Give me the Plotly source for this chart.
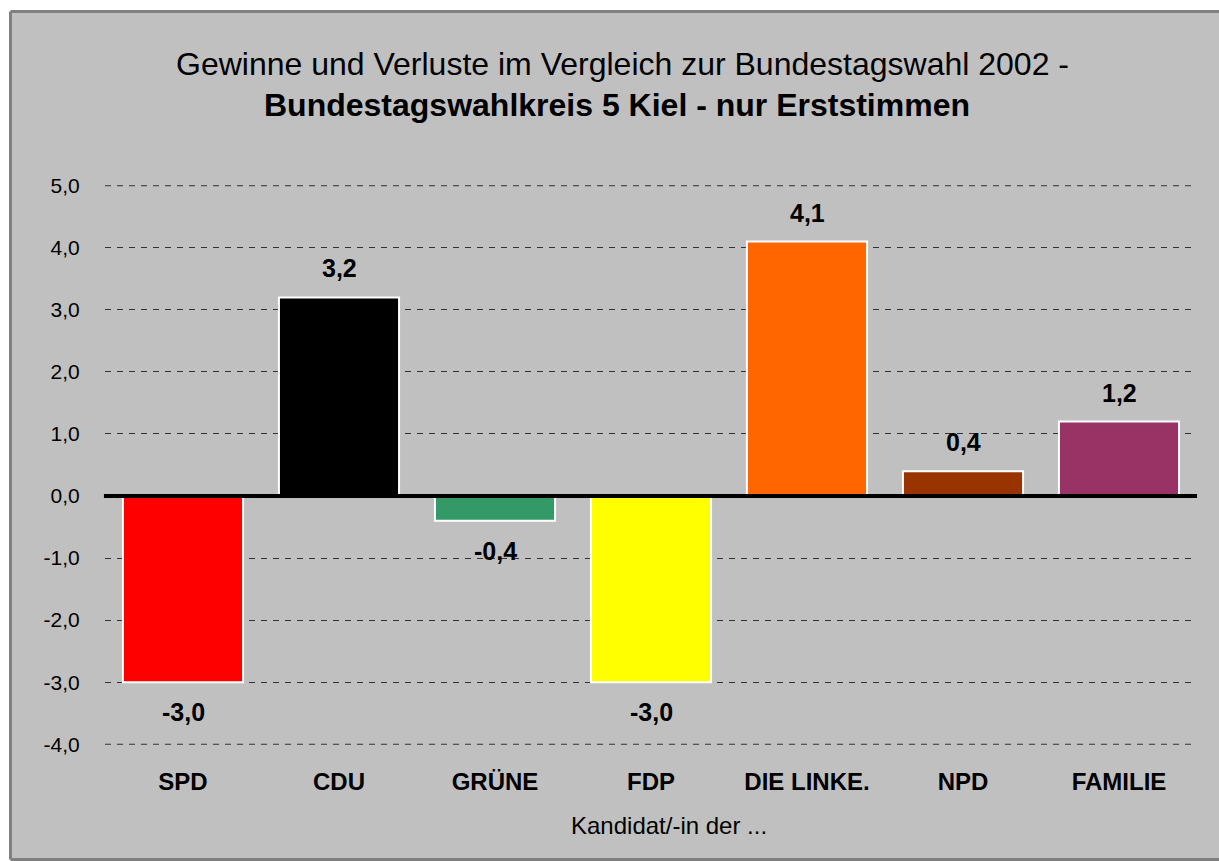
import plotly.graph_objects as go

parties = ["SPD", "CDU", "GRÜNE", "FDP", "DIE LINKE.", "NPD", "FAMILIE"]
changes = [-3.0, 3.2, -0.4, -3.0, 4.1, 0.4, 1.2]
colors = ["#FF0000", "#000000", "#339966", "#FFFF00", "#FF6600", "#993300", "#993366"]
y_ticks = [5, 4, 3, 2, 1, 0, -1, -2, -3, -4]

W, H = 1219, 861
L, R, T, B = 105, 22, 185, 116
pw, ph = W - L - R, H - T - B
PAD = 0.012
Y0, Y1 = min(y_ticks) - PAD, max(y_ticks) + PAD


def px_to_paper_x(px):
    return (px - L) / pw


def px_to_paper_y(py):
    return (H - B - py) / ph


def fmt(v):
    return f"{v:.1f}".replace(".", ",")


FONT = "Liberation Sans, Arial, sans-serif"
GRID = "#333333"

fig = go.Figure()
fig.add_trace(go.Bar(
    x=parties, y=changes,
    marker=dict(color=colors, line=dict(color="white", width=2)),
    width=0.77,
    hoverinfo="skip",
))

annotations = []
for p, v in zip(parties, changes):
    annotations.append(dict(
        x=p, y=v, xref="x", yref="y", text=fmt(v), showarrow=False,
        yshift=29 if v >= 0 else -30, yanchor="middle",
        font=dict(family=FONT, size=25, color="black", weight="bold"),
    ))

annotations.append(dict(
    x=px_to_paper_x(622), y=px_to_paper_y(64), xref="paper", yref="paper",
    text="Gewinne und Verluste im Vergleich zur Bundestagswahl 2002 -",
    showarrow=False, xanchor="center", yanchor="middle",
    font=dict(family=FONT, size=32, color="black"),
))
annotations.append(dict(
    x=px_to_paper_x(617), y=px_to_paper_y(105), xref="paper", yref="paper",
    text="<b>Bundestagswahlkreis 5 Kiel - nur Erststimmen</b>",
    showarrow=False, xanchor="center", yanchor="middle",
    font=dict(family=FONT, size=32, color="black"),
))
annotations.append(dict(
    x=px_to_paper_x(669), y=px_to_paper_y(825), xref="paper", yref="paper",
    text="Kandidat/-in der ...",
    showarrow=False, xanchor="center", yanchor="middle",
    font=dict(family=FONT, size=24, color="black"),
))

bx0, bx1 = px_to_paper_x(10.5), px_to_paper_x(1260)
by0, by1 = px_to_paper_y(859.5), px_to_paper_y(11.5)
shapes = [
    dict(type="rect", xref="paper", yref="paper", x0=bx0, x1=bx1, y0=by0, y1=by1,
         fillcolor="#C0C0C0", line=dict(width=0), layer="below"),
    dict(type="line", xref="paper", yref="paper", x0=bx0, x1=bx1, y0=by1, y1=by1,
         line=dict(color="#808080", width=3), layer="below"),
    dict(type="line", xref="paper", yref="paper", x0=bx0, x1=bx0, y0=by0, y1=by1,
         line=dict(color="#808080", width=3), layer="below"),
    dict(type="line", xref="paper", yref="paper", x0=bx0, x1=bx1, y0=by0, y1=by0,
         line=dict(color="#808080", width=3), layer="below"),
]
for t in (max(y_ticks), min(y_ticks)):
    shapes.append(dict(type="line", xref="paper", yref="y", x0=0, x1=1, y0=t, y1=t,
                       line=dict(color=GRID, width=1, dash="6px,6px"), layer="below"))
shapes.append(dict(type="line", xref="paper", yref="y", x0=-0.001, x1=1.0, y0=0, y1=0,
                   line=dict(color="black", width=4), layer="above"))

fig.update_layout(
    width=W, height=H,
    margin=dict(l=L, r=R, t=T, b=B, pad=0),
    paper_bgcolor="white",
    plot_bgcolor="rgba(0,0,0,0)",
    separators=",.",
    showlegend=False,
    bargap=0.23,
    font=dict(family=FONT, color="black"),
    annotations=annotations,
    shapes=shapes,
    xaxis=dict(
        showgrid=False, zeroline=False, showline=False,
        ticks="outside", ticklen=15, tickcolor="rgba(0,0,0,0)",
        tickfont=dict(family=FONT, size=24, color="black", weight="bold"),
        fixedrange=True,
    ),
    yaxis=dict(
        range=[Y0, Y1], tickvals=y_ticks, ticktext=[fmt(t) for t in y_ticks],
        showgrid=True, gridcolor=GRID, gridwidth=1, griddash="6px,6px",
        zeroline=False, showline=False,
        ticks="outside", ticklen=20, tickcolor="rgba(0,0,0,0)",
        tickfont=dict(family=FONT, size=21, color="black"),
        fixedrange=True,
    ),
)

fig.write_html("out.html", config={"displayModeBar": False},
               post_script="document.body.style.margin='0';document.body.style.overflow='hidden';document.documentElement.style.overflow='hidden';")
